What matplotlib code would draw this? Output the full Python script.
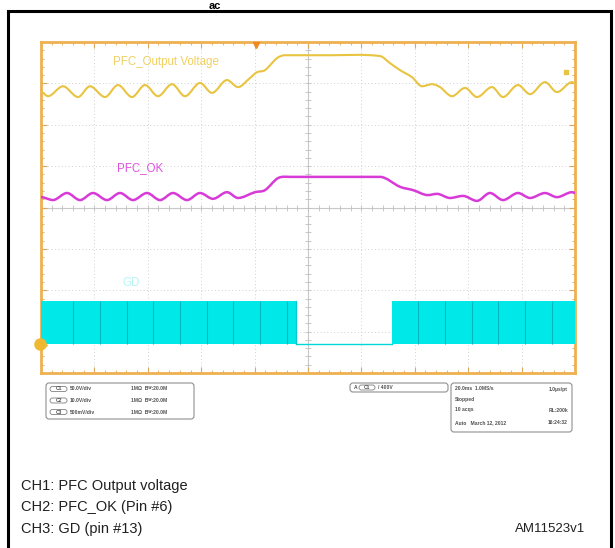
import matplotlib
matplotlib.use("Agg")
import matplotlib.pyplot as plt
from matplotlib.path import Path
from matplotlib.patches import PathPatch, FancyBboxPatch
import numpy as np

# ---------------- data (time in ms, level in divisions) ----------------
ch1_t = [0, 2.62, 8.24, 13.86, 18.35, 23.97, 28.84, 34.08, 38.95, 43.82, 49.06, 53.93,
         59.55, 64.04, 69.66, 73.78, 78.28, 80.90, 83.90, 88.39, 91.39, 108.24, 126.97,
         130.71, 134.46, 138.95, 142.70, 146.44, 149.44, 153.93, 158.80, 163.30, 168.91,
         173.03, 178.65, 183.15, 188.76, 193.26, 198.88, 200]
ch1_v = [2.79, 2.69, 2.93, 2.67, 2.93, 2.67, 2.96, 2.67, 2.96, 2.69, 2.98, 2.69,
         3.01, 2.77, 3.08, 2.91, 3.13, 3.27, 3.32, 3.61, 3.68, 3.68, 3.66,
         3.49, 3.32, 3.15, 2.93, 2.98, 2.91, 2.69, 2.89, 2.67, 2.91,
         2.67, 2.96, 2.74, 3.03, 2.79, 3.03, 3.01]

ch2_t = [0, 4.49, 9.74, 14.61, 19.48, 24.72, 29.59, 34.46, 39.70, 44.57, 49.44, 54.68,
         59.55, 64.42, 69.66, 73.78, 80.15, 83.90, 88.76, 93.26, 126.97, 134.46, 139.33,
         144.94, 148.31, 153.18, 158.05, 163.30, 168.16, 173.03, 178.65, 183.15, 188.76,
         193.26, 198.88, 200]
ch2_v = [0.25, 0.18, 0.35, 0.18, 0.35, 0.18, 0.35, 0.18, 0.35, 0.18, 0.35, 0.18,
         0.35, 0.21, 0.37, 0.23, 0.37, 0.42, 0.71, 0.74, 0.74, 0.50, 0.42,
         0.30, 0.33, 0.23, 0.28, 0.16, 0.35, 0.18, 0.35, 0.23, 0.35,
         0.25, 0.37, 0.35]

gd_on = [(0, 95.5), (131.5, 200)]
gd_high = -2.26
gd_low = -3.30
gd_burst_edges = [12.0, 22.1, 32.2, 41.9, 52.1, 62.2, 71.9, 82.0, 92.1,
                  141.2, 151.3, 161.4, 171.2, 181.3, 191.4]
trigger_t = 80.5

scale_rows = [("C1", "50.0V/div"), ("C2", "10.0V/div"), ("C3", "500mV/div")]
acq_rows = [("20.0ms  1.0MS/s", "1.0\u00b5s/pt"), ("Stopped", ""), ("10 acqs", "RL:200k"),
            ("Auto   March 12, 2012", "16:24:32")]
captions = ["CH1: PFC Output voltage", "CH2: PFC_OK (Pin #6)", "CH3: GD (pin #13)"]

# ---------------- helpers ----------------
def smooth_path(xs, ys):
    xs = np.asarray(xs, float); ys = np.asarray(ys, float)
    n = len(xs)
    m = np.zeros(n)
    for i in range(1, n - 1):
        if (ys[i] - ys[i-1]) * (ys[i+1] - ys[i]) > 0:
            m[i] = (ys[i+1] - ys[i-1]) / (xs[i+1] - xs[i-1])
    verts = [(xs[0], ys[0])]
    codes = [Path.MOVETO]
    for i in range(n - 1):
        dx = xs[i+1] - xs[i]
        verts += [(xs[i] + dx/3, ys[i] + m[i]*dx/3),
                  (xs[i+1] - dx/3, ys[i+1] - m[i+1]*dx/3),
                  (xs[i+1], ys[i+1])]
        codes += [Path.CURVE4]*3
    return Path(verts, codes)

W, H = 615, 548
fig = plt.figure(figsize=(W/100, H/100), dpi=100)

# overlay (page) axes in pixel units
pg = fig.add_axes([0, 0, 1, 1])
pg.set_xlim(0, W); pg.set_ylim(H, 0); pg.axis("off")

narrow = ["Liberation Sans Narrow", "Liberation Sans", "DejaVu Sans"]

# outer frame
pg.plot([8, 8, 611, 611], [560, 11, 11, 560], color="black", lw=2.2, solid_joinstyle="miter")
pg.text(215, 9, "ac", fontsize=8, fontweight="bold", ha="center", va="baseline",
        family=["Liberation Sans", "DejaVu Sans"])

# ---------------- scope axes ----------------
L, R, T, B = 41, 575, 42, 373
ax = fig.add_axes([L/W, 1 - B/H, (R-L)/W, (B-T)/H])
ax.set_xlim(0, 200); ax.set_ylim(-4, 4)
ax.set_facecolor("white")
for s in ax.spines.values():
    s.set_color("#eeb050"); s.set_linewidth(2.0)
ax.set_xticks(np.arange(0, 201, 20))
ax.set_yticks(np.arange(-4, 5, 1))
ax.set_xticks(np.arange(0, 201, 4), minor=True)
ax.set_yticks(np.arange(-4, 4.01, 0.2), minor=True)
ax.tick_params(which="both", direction="in", top=True, right=True, labelleft=False,
               labelbottom=False, color="#d8a860")
ax.tick_params(which="major", length=4, width=0.8)
ax.tick_params(which="minor", length=2.5, width=0.6)

# dotted grid
for t in range(20, 200, 20):
    ax.axvline(t, color="#d0d0d0", lw=0.7, ls=(0, (1, 2.5)), zorder=1)
for v in range(-3, 4):
    ax.axhline(v, color="#d0d0d0", lw=0.7, ls=(0, (1, 2.5)), zorder=1)
ax.axvline(100, color="#c8c8c8", lw=0.8, zorder=1)
ax.axhline(0, color="#c8c8c8", lw=0.8, zorder=1)
mt = np.arange(0, 201, 4)
ax.plot(mt, np.zeros_like(mt), ls="none", marker="|", ms=4, mew=0.6, color="#c0c0c0", zorder=1)
mv = np.arange(-4, 4.01, 0.2)
ax.plot(np.full_like(mv, 100), mv, ls="none", marker="_", ms=4, mew=0.6, color="#c0c0c0", zorder=1)

# CH3 GD
for a, b in gd_on:
    ax.fill_between([a, b], gd_low, gd_high, color="#00e8e8", lw=0, zorder=3)
ax.plot([gd_on[0][1], gd_on[1][0]], [gd_low, gd_low], color="#00d8d8", lw=1.0, zorder=3)
ax.vlines(gd_burst_edges, gd_low, gd_high, color="#00b8c0", lw=0.8, zorder=4)
ax.plot([gd_on[0][1], gd_on[0][1]], [gd_low, gd_high], color="#00c8d0", lw=0.8, zorder=4)

# CH1 / CH2
ax.add_patch(PathPatch(smooth_path(ch1_t, ch1_v), fill=False, ec="#e8c440", lw=1.5, zorder=5))
ax.add_patch(PathPatch(smooth_path(ch2_t, ch2_v), fill=False, ec="#d83ad8", lw=1.8, zorder=5))

# channel labels
ax.text(26.8, 3.52, "PFC_Output Voltage", color="#f0d060", fontsize=8.3, va="center",
        family=["Liberation Sans", "DejaVu Sans"])
ax.text(28.5, 0.95, "PFC_OK", color="#e050e0", fontsize=8.3, va="center",
        family=["Liberation Sans", "DejaVu Sans"])
ax.text(30.5, -1.82, "GD", color="#b8f4f4", fontsize=8.3, va="center",
        family=["Liberation Sans", "DejaVu Sans"])

# markers
ax.plot([trigger_t], [3.93], marker="v", ms=5, color="#f08a20", clip_on=False, zorder=6)
ax.plot([-0.3], [gd_low], marker="o", ms=8, color="#f0b830", clip_on=False, zorder=6)
ax.plot([1.2], [gd_low - 0.02], marker=">", ms=5, color="#f0b830", clip_on=False, zorder=6)
ax.plot([196.8], [3.27], marker="s", ms=2.5, color="#e8c440", clip_on=False, zorder=6)

# ---------------- info boxes ----------------
def rbox(x0, y0, x1, y1):
    pg.add_patch(FancyBboxPatch((x0, y0), x1-x0, y1-y0, boxstyle="round,pad=0,rounding_size=3",
                                fc="white", ec="#909090", lw=0.8))

small = dict(fontsize=3.6, fontweight="bold", color="#505050", va="center",
             family=["Liberation Sans", "DejaVu Sans"])
rbox(46, 383, 194, 419)
for i, (ch, sc) in enumerate(scale_rows):
    y = 389 + i*11.5
    pg.add_patch(FancyBboxPatch((50, y-2.5), 17, 5, boxstyle="round,pad=0,rounding_size=2.5",
                                fc="white", ec="#808080", lw=0.6))
    pg.text(58.5, y, ch, ha="center", **small)
    pg.text(70, y, sc, **small)
    pg.text(131, y, "1M\u03a9  B\u1d42:20.0M", **small)

rbox(350, 383, 448, 392)
pg.text(354, 387.5, "A", **small)
pg.add_patch(FancyBboxPatch((359, 385), 16, 5, boxstyle="round,pad=0,rounding_size=2.5",
                            fc="white", ec="#808080", lw=0.6))
pg.text(367, 387.5, "C1", ha="center", **small)
pg.text(378, 387.5, "/ 400V", **small)

rbox(451, 383, 572, 432)
for i, (a, b) in enumerate(acq_rows):
    y = [389, 399, 410, 423][i]
    pg.text(455, y, a, **small)
    pg.text(568, y, b, ha="right", **small)

# ---------------- captions ----------------
for i, c in enumerate(captions):
    pg.text(21, 486 + i*21.5, c, fontsize=10.5, va="center", color="#202020", family=narrow)
pg.text(585, 529, "AM11523v1", fontsize=9.5, va="center", ha="right", color="#202020", family=narrow)

fig.savefig("out.png", dpi=100)
